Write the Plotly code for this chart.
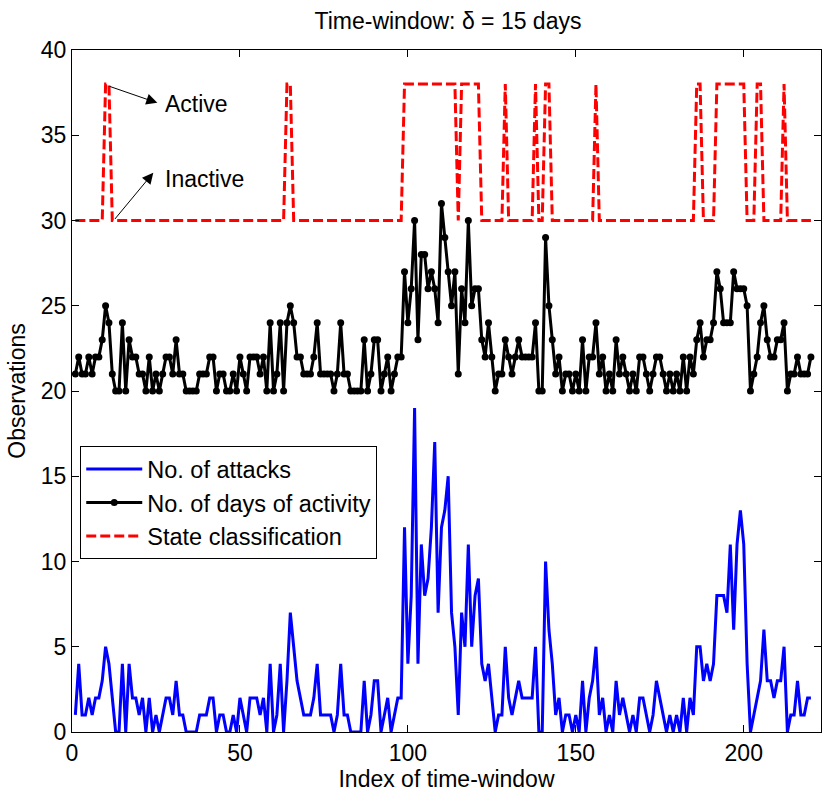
import plotly.graph_objects as go

idx = list(range(1, 221))

attacks = [1,4,1,1,2,1,2,2,3,5, 4,2,0,0,4,0,4,2,2,1, 2,0,2,0,1,0,1,2,2,1,
           3,1,1,0,0,0,0,1,1,1, 2,2,0,1,1,0,0,1,0,2, 1,0,2,2,2,1,2,0,4,0,
           1,4,0,3,7,5,3,2,1,1, 1,2,4,1,1,1,1,0,1,4, 1,1,0,0,0,0,3,0,1,3,
           3,0,1,2,0,1,2,2,12,4, 8,19,4,11,8,9,12,17,7,12, 13,15,7,5,1,7,5,11,5,8,
           9,4,3,4,2,0,1,1,5,2, 1,2,3,2,2,2,2,5,0,0, 10,6,4,1,2,0,1,1,0,1,
           0,3,0,2,3,5,1,2,0,1, 0,3,1,2,1,0,1,0,2,2, 1,0,1,3,2,1,0,1,0,1,
           0,2,0,2,1,5,5,3,4,3, 4,8,8,8,7,11,6,11,13,11, 4,0,1,2,3,6,3,3,2,3,
           3,5,0,1,1,3,1,1,2,2]

days_activity = [21,22,21,21,22,21,22,22,23,25, 24,21,20,20,24,20,23,22,22,21,
                 21,20,22,20,21,20,21,22,22,21, 23,21,21,20,20,20,20,21,21,21,
                 22,22,20,21,21,20,20,21,20,22, 21,20,22,22,22,21,22,20,24,20,
                 21,24,20,24,25,24,22,22,21,21, 21,22,24,21,21,21,21,20,21,24,
                 21,21,20,20,20,20,23,20,21,23, 23,20,21,22,20,21,22,22,27,24,
                 26,30,23,28,28,26,27,26,24,31, 29,27,25,27,21,26,24,30,25,26,
                 26,23,22,24,22,20,21,21,23,22, 21,22,23,22,22,22,22,24,20,20,
                 29,25,23,21,22,20,21,21,20,21, 20,23,20,22,22,24,21,22,20,21,
                 20,23,21,22,21,20,21,20,22,22, 21,20,21,22,22,21,20,21,20,21,
                 20,22,20,22,21,23,24,22,23,23, 24,27,26,24,24,24,27,26,26,26,
                 25,20,21,22,24,25,23,22,22,23, 23,24,20,21,21,22,21,21,21,22]

active_windows = [10, 11, 64, 65] + list(range(99, 115)) + list(range(116, 122)) + \
                 [129, 138, 141, 142, 156, 186, 187] + list(range(192, 201)) + [204, 205, 212]
INACTIVE_LEVEL, ACTIVE_LEVEL = 30, 38
state = [ACTIVE_LEVEL if i in active_windows else INACTIVE_LEVEL for i in idx]

FONT = "Liberation Sans, Arial, Helvetica, sans-serif"

fig = go.Figure()
fig.add_trace(go.Scatter(x=idx, y=attacks, mode="lines", name="No. of attacks",
                         line=dict(color="#0000ff", width=3)))
fig.add_trace(go.Scatter(x=idx, y=days_activity, mode="lines+markers",
                         name="No. of days of activity",
                         line=dict(color="#000000", width=3),
                         marker=dict(color="#000000", size=7, symbol="circle")))
fig.add_trace(go.Scatter(x=idx, y=state, mode="lines", name="State classification",
                         line=dict(color="#ff0000", width=3, dash="10px,4px")))

ann = []
ann.append(dict(x=25.4, y=36.9, ax=10.7, ay=37.9, xref="x", yref="y", axref="x", ayref="y",
                text="", showarrow=True, arrowhead=2, arrowsize=2.2, arrowwidth=1, arrowcolor="#000000"))
ann.append(dict(x=24.2, y=32.8, ax=12.4, ay=30.0, xref="x", yref="y", axref="x", ayref="y",
                text="", showarrow=True, arrowhead=2, arrowsize=2.2, arrowwidth=1, arrowcolor="#000000"))
ann.append(dict(x=27.0, y=36.85, xref="x", yref="y", text="Active", showarrow=False,
                xanchor="left", yanchor="middle", font=dict(size=23, color="#000000", family=FONT)))
ann.append(dict(x=27.0, y=32.45, xref="x", yref="y", text="Inactive", showarrow=False,
                xanchor="left", yanchor="middle", font=dict(size=23, color="#000000", family=FONT)))

fig.update_layout(
    width=822, height=797,
    margin=dict(l=72, r=1, t=50, b=65),
    paper_bgcolor="white", plot_bgcolor="white",
    font=dict(family=FONT, size=23, color="#000000"),
    title=dict(text="Time-window: \u03b4 = 15 days", x=0.545, xanchor="center",
               y=0.974, yanchor="middle", font=dict(size=23, family=FONT, color="#000000")),
    showlegend=True,
    legend=dict(x=0.011, y=0.419, xanchor="left", yanchor="top",
                bgcolor="white", bordercolor="#000000", borderwidth=1,
                font=dict(size=23.5, family=FONT, color="#000000"),
                tracegroupgap=0, itemwidth=56),
    annotations=ann,
)
fig.update_xaxes(range=[0, 223], tickvals=[0, 50, 100, 150, 200], ticks="inside", ticklen=7,
                 tickcolor="#000000", showline=True, linecolor="#000000", linewidth=1, mirror="ticks",
                 showgrid=False, zeroline=False, title=dict(text="Index of time-window", standoff=6,
                 font=dict(size=23, family=FONT)), tickfont=dict(size=23, family=FONT))
fig.update_yaxes(range=[0, 40], tickvals=[0, 5, 10, 15, 20, 25, 30, 35, 40], ticks="inside", ticklen=7,
                 tickcolor="#000000", showline=True, linecolor="#000000", linewidth=1, mirror="ticks",
                 showgrid=False, zeroline=False, title=dict(text="Observations", standoff=8,
                 font=dict(size=23, family=FONT)), tickfont=dict(size=23, family=FONT))

fig.write_html("out.html")
